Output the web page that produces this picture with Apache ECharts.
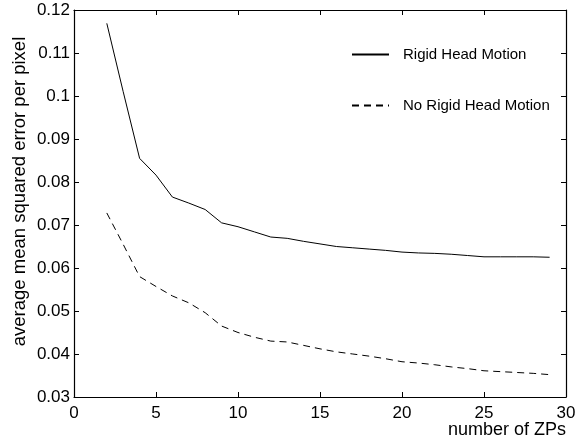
<!DOCTYPE html>
<html>
<head>
<meta charset="utf-8">
<script src="https://cdn.jsdelivr.net/npm/echarts@6/dist/echarts.min.js"></script>
<style>
  html, body { margin: 0; padding: 0; background: #fff; }
  #chart { width: 577px; height: 444px; }
</style>
</head>
<body>
<div id="chart"></div>
<script>
// number of ZPs
var zps = [2, 3, 4, 5, 6, 7, 8, 9, 10, 11, 12, 13, 14, 15, 16, 17, 18, 19, 20, 21, 22, 23, 24, 25, 26, 27, 28, 29];
var rigidMotion = [0.1169, 0.1010, 0.0855, 0.0816, 0.0765, 0.0751, 0.0736, 0.0705, 0.0696, 0.0684, 0.0672, 0.0669, 0.0662, 0.0656, 0.0650, 0.0647, 0.0644, 0.0641, 0.0637, 0.0635, 0.0634, 0.0632, 0.0629, 0.0626, 0.0626, 0.0626, 0.0626, 0.0625];
var noRigidMotion = [0.0728, 0.0655, 0.0580, 0.0557, 0.0535, 0.0519, 0.0496, 0.0465, 0.0450, 0.0439, 0.0430, 0.0428, 0.0420, 0.0412, 0.0405, 0.0400, 0.0395, 0.0389, 0.0382, 0.0379, 0.0375, 0.0370, 0.0366, 0.0361, 0.0359, 0.0357, 0.0355, 0.0352];

function pairs(ys) {
  return zps.map(function (x, i) { return [x, ys[i]]; });
}

var chart = echarts.init(document.getElementById('chart'));
var font = 'Liberation Sans, Arial, sans-serif';
var tick = { show: true, inside: true, length: 5, lineStyle: { color: '#000', width: 1 } };
var line = { show: true, onZero: false, lineStyle: { color: '#000', width: 1.2 } };

var option = {
  animation: false,
  textStyle: { fontFamily: font },
  grid: { left: 74, right: 11, top: 10, bottom: 47, outerBoundsMode: 'none', containLabel: false },
  legend: {
    left: 346,
    top: 42,
    orient: 'vertical',
    itemWidth: 37,
    itemHeight: 14,
    itemGap: 36,
    itemStyle: { opacity: 0 },
    textStyle: { fontFamily: font, fontSize: 15, color: '#000', padding: [0, 0, 0, 9] },
    data: ['Rigid Head Motion', 'No Rigid Head Motion']
  },
  xAxis: [
    {
      type: 'value', min: 0, max: 30, interval: 5,
      name: 'number of ZPs', nameLocation: 'end',
      nameGap: 0, nameMoveOverlap: false,
      nameTextStyle: { fontSize: 18, color: '#000', align: 'right', verticalAlign: 'top', padding: [24, 0, 0, 0] },
      axisLine: line, axisTick: tick, splitLine: { show: false },
      axisLabel: { fontSize: 17, color: '#000', margin: 8 }
    },
    {
      type: 'value', min: 0, max: 30, interval: 5, position: 'top',
      axisLine: line, axisTick: tick, splitLine: { show: false },
      axisLabel: { show: false }
    }
  ],
  yAxis: [
    {
      type: 'value', min: 0.03, max: 0.12, interval: 0.01,
      name: 'average mean squared error per pixel', nameLocation: 'middle',
      nameGap: 45, nameMoveOverlap: false,
      nameTextStyle: { fontSize: 18.5, color: '#000', padding: [0, 0, 0, 24] },
      axisLine: line, axisTick: tick, splitLine: { show: false },
      axisLabel: {
        fontSize: 17, color: '#000', margin: 4,
        formatter: function (v) { return +v.toFixed(2) + ''; }
      }
    },
    {
      type: 'value', min: 0.03, max: 0.12, interval: 0.01, position: 'right',
      axisLine: line, axisTick: tick, splitLine: { show: false },
      axisLabel: { show: false }
    }
  ],
  series: [
    {
      name: 'Rigid Head Motion', type: 'line', data: pairs(rigidMotion),
      showSymbol: false, symbol: 'none', color: '#000',
      lineStyle: { color: '#000', width: 1 }
    },
    {
      name: 'No Rigid Head Motion', type: 'line', data: pairs(noRigidMotion),
      showSymbol: false, symbol: 'none', color: '#000',
      lineStyle: { color: '#000', width: 1, type: [7, 5] }
    }
  ]
};
chart.setOption(option);
</script>
</body>
</html>
